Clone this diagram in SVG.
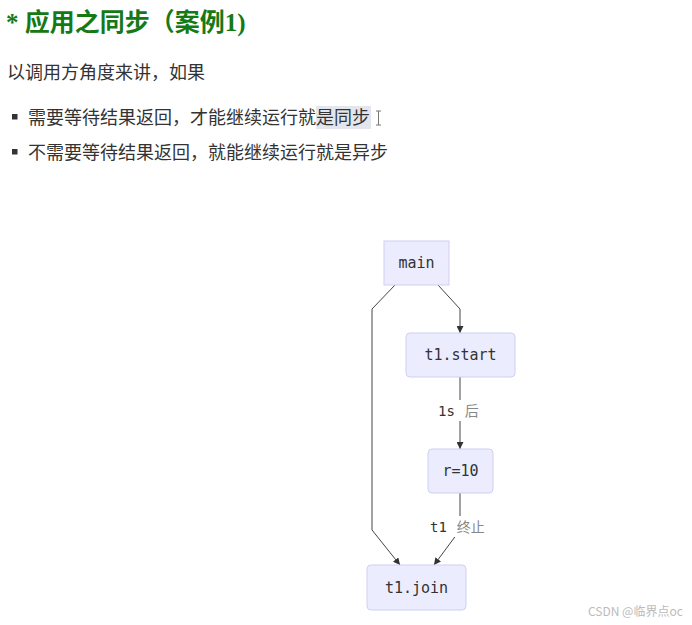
<svg xmlns="http://www.w3.org/2000/svg" width="692" height="625" viewBox="0 0 692 625">
<defs>
<style>
.cn{font-family:"Noto Sans CJK SC","Liberation Sans",sans-serif;}
.title{font-family:"Liberation Serif","Noto Sans CJK SC",serif;font-weight:bold;font-size:25px;fill:#157a15;}
.body{font-size:18px;fill:#333;}
.node rect{fill:#ececff;stroke:#cfcff5;stroke-width:1;}
.node text{font-family:"DejaVu Sans Mono","Liberation Mono",monospace;font-size:15px;fill:#333;text-anchor:middle;}
.edge{fill:none;stroke:#444;stroke-width:1;}
.lbl{font-size:14px;}
.mono{font-family:"DejaVu Sans Mono","Liberation Mono",monospace;fill:#333;}
.gray{font-family:"Noto Sans CJK SC",sans-serif;fill:#888;}
</style>
<marker id="arr" viewBox="0 0 10 10" refX="10" refY="5" markerWidth="7" markerHeight="7" orient="auto" markerUnits="userSpaceOnUse">
<path d="M0,0 L10,5 L0,10 z" fill="#333"/>
</marker>
</defs>
<rect width="692" height="625" fill="#fff"/>
<text x="6" y="31" class="title">* 应用之同步（案例1)</text>
<text x="7" y="79" class="cn body">以调用方角度来讲，如果</text>
<rect x="12" y="114" width="5.5" height="5.5" fill="#333"/>
<rect x="316" y="106" width="55" height="23" fill="#e3e6ec"/>
<text x="28" y="124" class="cn body">需要等待结果返回，才能继续运行就是同步</text>
<path d="M376,111 h5 M378.5,111 v14 M376,125 h5" stroke="#777" stroke-width="1" fill="none"/>
<rect x="12" y="149" width="5.5" height="5.5" fill="#333"/>
<text x="28" y="159" class="cn body">不需要等待结果返回，就能继续运行就是异步</text>
<g id="connectors">
<path class="edge" d="M438,285 L460,309 L460,333" marker-end="url(#arr)"/>
<path class="edge" d="M395,285 L372,309 L372,530 L400,565" marker-end="url(#arr)"/>
<path class="edge" d="M460,377 L460,449" marker-end="url(#arr)"/>
<path class="edge" d="M460,493 L460,530 L434,565" marker-end="url(#arr)"/>
<rect x="435" y="400" width="50" height="21" fill="#fff"/>
<text x="438" y="416" class="lbl"><tspan class="mono">1s</tspan><tspan class="gray" dx="10">后</tspan></text>
<rect x="427" y="516" width="66" height="21" fill="#fff"/>
<text x="430" y="532" class="lbl"><tspan class="mono">t1</tspan><tspan class="gray" dx="10">终止</tspan></text>
</g>
<g id="main" class="node"><rect x="384" y="241" width="65" height="44"/><text x="416.5" y="267.5">main</text></g>
<g id="t1start" class="node"><rect x="406" y="333" width="109" height="44" rx="4"/><text x="460.5" y="359.5">t1.start</text></g>
<g id="r10" class="node"><rect x="428" y="449" width="65" height="44" rx="4"/><text x="460.5" y="475.5">r=10</text></g>
<g id="t1join" class="node"><rect x="367" y="565" width="99" height="45" rx="4"/><text x="416.5" y="592.5">t1.join</text></g>
<text x="588" y="616" class="cn" font-size="12" fill="#bbb">CSDN @临界点oc</text>
</svg>
